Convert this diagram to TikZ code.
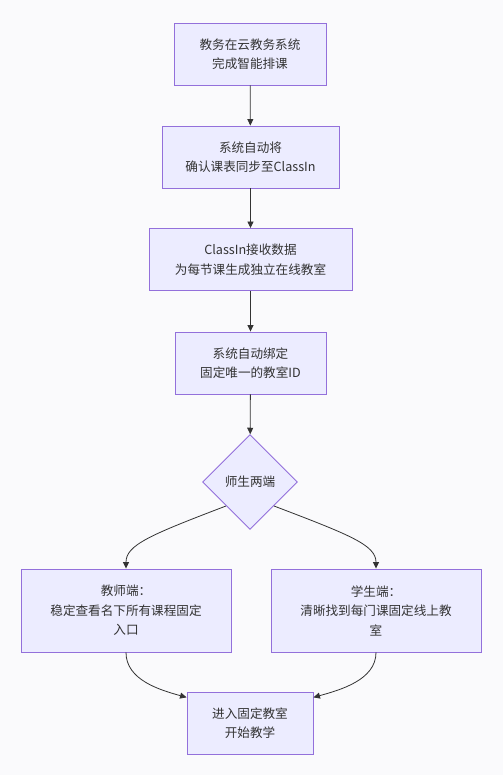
\documentclass[tikz,border=0pt]{standalone}
\usepackage{fontspec}
\setmainfont{Noto Sans CJK SC}
\usetikzlibrary{shapes.geometric,arrows.meta}
\definecolor{boxfill}{HTML}{ECECFF}
\definecolor{boxline}{HTML}{9370DB}
\definecolor{txt}{HTML}{333333}
\definecolor{bg}{HTML}{FAFAFC}
\begin{document}
\begin{tikzpicture}[x=1pt,y=-1pt,
  box/.style={draw=boxline,fill=boxfill,line width=0.9pt,text=txt,align=center,
    font=\fontsize{12.6}{19.5}\selectfont,inner sep=0pt,minimum height=62pt},
  dia/.style={diamond,draw=boxline,fill=boxfill,line width=0.9pt,text=txt,
    font=\fontsize{12.6}{19.5}\selectfont,inner sep=0pt,minimum width=95pt,minimum height=95pt},
  conn/.style={draw=txt,line width=0.8pt,-{Triangle[length=6.5pt,width=6pt]}}]
\fill[bg] (0,0) rectangle (503,775);
\useasboundingbox (0,0) rectangle (503,775);
\node[box,minimum width=152pt] (n1) at (250,54) {教务在云教务系统\\完成智能排课};
\node[box,minimum width=177pt] (n2) at (250.5,157) {系统自动将\\确认课表同步至ClassIn};
\node[box,minimum width=203pt] (n3) at (250.5,259.5) {ClassIn接收数据\\为每节课生成独立在线教室};
\node[box,minimum width=151pt] (n4) at (250.5,363) {系统自动绑定\\固定唯一的教室ID};
\node[dia] (d) at (250,482) {师生两端};
\node[box,minimum width=210pt,minimum height=83pt] (l) at (126,610.5) {教师端：\\稳定查看名下所有课程固定\\入口};
\node[box,minimum width=210pt,minimum height=83pt] (r) at (376,610.5) {学生端：\\清晰找到每门课固定线上教\\室};
\node[box,minimum width=126pt] (b) at (250,723) {进入固定教室\\开始教学};
\draw[conn] (n1) -- (n2);
\draw[conn] (n2) -- (n3);
\draw[conn] (n3) -- (n4);
\draw[conn] (n4) -- (d);
\draw[conn] (d.south west) .. controls (150,535) and (126,545) .. (l.north);
\draw[conn] (d.south east) .. controls (350,535) and (376,545) .. (r.north);
\draw[conn] (l.south) .. controls (126,680) and (160,690) .. (b.158);
\draw[conn] (r.south) .. controls (376,680) and (340,690) .. (b.22);
\end{tikzpicture}
\end{document}
